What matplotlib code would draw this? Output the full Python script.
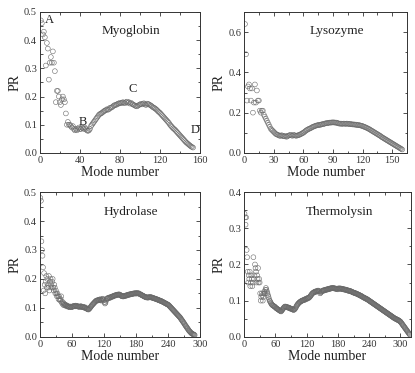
import numpy as np
import matplotlib
matplotlib.use("Agg")
import matplotlib.pyplot as plt
from matplotlib.ticker import MultipleLocator

plt.rcParams['font.family'] = ['Liberation Serif', 'DejaVu Serif']

#%% PR values per mode

myo_pr = [0.47, 0.46, 0.42, 0.43, 0.41, 0.31, 0.39, 0.37, 0.26, 0.32,
          0.34, 0.32, 0.36, 0.32, 0.29, 0.18, 0.22, 0.22, 0.20, 0.18,
          0.17, 0.19, 0.20, 0.19, 0.18, 0.14, 0.10, 0.11, 0.10, 0.10,
          0.095, 0.09, 0.095, 0.085, 0.08, 0.085, 0.08, 0.085, 0.09, 0.085,
          0.085, 0.09, 0.088, 0.085, 0.09, 0.085, 0.08, 0.078, 0.08, 0.085,
          0.095, 0.10, 0.105, 0.11, 0.115, 0.12, 0.125, 0.13, 0.135, 0.138,
          0.14, 0.142, 0.145, 0.148, 0.15, 0.152, 0.155, 0.153, 0.155, 0.16,
          0.16, 0.162, 0.165, 0.168, 0.17, 0.17, 0.172, 0.175, 0.175, 0.178,
          0.176, 0.178, 0.18, 0.178, 0.176, 0.18, 0.182, 0.178, 0.18, 0.175,
          0.178, 0.174, 0.172, 0.17, 0.168, 0.166, 0.165, 0.168, 0.17, 0.172,
          0.174, 0.172, 0.175, 0.176, 0.172, 0.17, 0.175, 0.174, 0.172, 0.17,
          0.168, 0.165, 0.162, 0.16, 0.158, 0.155, 0.152, 0.148, 0.145, 0.142,
          0.138, 0.134, 0.13, 0.126, 0.122, 0.118, 0.114, 0.11, 0.106, 0.10,
          0.096, 0.092, 0.088, 0.085, 0.082, 0.078, 0.074, 0.07, 0.066, 0.062,
          0.058, 0.054, 0.05, 0.046, 0.042, 0.038, 0.035, 0.032, 0.029, 0.026,
          0.023, 0.021, 0.019]

lys_pr = [0.64, 0.49, 0.26, 0.33, 0.34, 0.32, 0.26, 0.32, 0.20, 0.25,
          0.34, 0.25, 0.31, 0.26, 0.26, 0.21, 0.20, 0.21, 0.21, 0.19,
          0.18, 0.17, 0.16, 0.15, 0.14, 0.13, 0.12, 0.115, 0.11, 0.105,
          0.10, 0.095, 0.092, 0.09, 0.088, 0.085, 0.085, 0.088, 0.085, 0.083,
          0.082, 0.085, 0.08, 0.083, 0.086, 0.088, 0.09, 0.087, 0.085, 0.09,
          0.088, 0.086, 0.085, 0.087, 0.088, 0.09, 0.092, 0.095, 0.098, 0.10,
          0.104, 0.108, 0.112, 0.115, 0.118, 0.12, 0.122, 0.125, 0.128, 0.13,
          0.132, 0.134, 0.136, 0.137, 0.138, 0.14, 0.139, 0.141, 0.143, 0.142,
          0.145, 0.146, 0.148, 0.147, 0.149, 0.15, 0.151, 0.15, 0.152, 0.151,
          0.152, 0.15, 0.151, 0.149, 0.148, 0.146, 0.145, 0.146, 0.144, 0.145,
          0.146, 0.145, 0.144, 0.146, 0.145, 0.144, 0.143, 0.144, 0.142, 0.141,
          0.142, 0.14, 0.141, 0.139, 0.138, 0.139, 0.137, 0.136, 0.135, 0.133,
          0.131, 0.129, 0.127, 0.125, 0.122, 0.12, 0.117, 0.114, 0.111, 0.108,
          0.105, 0.102, 0.099, 0.096, 0.093, 0.09, 0.087, 0.084, 0.08, 0.077,
          0.074, 0.071, 0.068, 0.065, 0.062, 0.059, 0.056, 0.053, 0.05, 0.047,
          0.044, 0.041, 0.038, 0.035, 0.032, 0.029, 0.026, 0.023, 0.02, 0.017]

hyd_pr = [0.48, 0.47, 0.33, 0.30, 0.28, 0.24, 0.16, 0.22, 0.18, 0.15,
          0.19, 0.21, 0.17, 0.20, 0.18, 0.17, 0.21, 0.16, 0.19, 0.20,
          0.18, 0.17, 0.19, 0.20, 0.17, 0.16, 0.18, 0.17, 0.15, 0.16,
          0.15, 0.14, 0.15, 0.14, 0.13, 0.14, 0.13, 0.125, 0.13, 0.14,
          0.12, 0.115, 0.12, 0.11, 0.115, 0.11, 0.112, 0.108, 0.11, 0.105,
          0.108, 0.106, 0.104, 0.105, 0.103, 0.102, 0.105, 0.104, 0.102, 0.103,
          0.104, 0.106, 0.105, 0.107, 0.106, 0.105, 0.108, 0.106, 0.107, 0.105,
          0.106, 0.104, 0.105, 0.103, 0.104, 0.105, 0.106, 0.104, 0.103, 0.102,
          0.104, 0.103, 0.101, 0.10, 0.102, 0.10, 0.098, 0.097, 0.096, 0.095,
          0.094, 0.096, 0.098, 0.10, 0.103, 0.105, 0.108, 0.11, 0.112, 0.114,
          0.116, 0.118, 0.12, 0.122, 0.124, 0.125, 0.126, 0.125, 0.127, 0.128,
          0.126, 0.128, 0.13, 0.127, 0.125, 0.128, 0.13, 0.132, 0.129, 0.126,
          0.12, 0.115, 0.118, 0.125, 0.13, 0.132, 0.134, 0.133, 0.135, 0.136,
          0.134, 0.136, 0.138, 0.137, 0.139, 0.14, 0.139, 0.141, 0.142, 0.143,
          0.142, 0.144, 0.145, 0.144, 0.146, 0.145, 0.146, 0.147, 0.145, 0.146,
          0.144, 0.142, 0.141, 0.14, 0.141, 0.139, 0.14, 0.141, 0.142, 0.141,
          0.143, 0.142, 0.144, 0.145, 0.144, 0.146, 0.145, 0.147, 0.146, 0.148,
          0.147, 0.148, 0.149, 0.148, 0.15, 0.149, 0.15, 0.151, 0.15, 0.149,
          0.151, 0.15, 0.152, 0.15, 0.149, 0.15, 0.148, 0.147, 0.146, 0.145,
          0.144, 0.143, 0.142, 0.141, 0.14, 0.139, 0.138, 0.137, 0.136, 0.137,
          0.136, 0.135, 0.136, 0.137, 0.136, 0.138, 0.137, 0.136, 0.137, 0.135,
          0.135, 0.134, 0.134, 0.133, 0.132, 0.132, 0.131, 0.13, 0.13, 0.129,
          0.128, 0.127, 0.127, 0.126, 0.125, 0.124, 0.124, 0.123, 0.122, 0.121,
          0.12, 0.119, 0.118, 0.117, 0.116, 0.115, 0.114, 0.113, 0.112, 0.111,
          0.11, 0.108, 0.106, 0.104, 0.102, 0.10, 0.098, 0.096, 0.094, 0.092,
          0.09, 0.088, 0.086, 0.084, 0.082, 0.08, 0.078, 0.076, 0.074, 0.072,
          0.07, 0.068, 0.066, 0.063, 0.06, 0.058, 0.055, 0.052, 0.05, 0.047,
          0.044, 0.041, 0.038, 0.036, 0.033, 0.03, 0.028, 0.025, 0.022, 0.02,
          0.018, 0.016, 0.014, 0.012, 0.011, 0.01, 0.009, 0.008, 0.007, 0.006]

thr_pr = [0.34, 0.33, 0.31, 0.33, 0.24, 0.22, 0.18, 0.15, 0.17, 0.16,
          0.18, 0.14, 0.15, 0.17, 0.16, 0.14, 0.15, 0.22, 0.16, 0.17,
          0.20, 0.19, 0.18, 0.15, 0.17, 0.16, 0.19, 0.15, 0.16, 0.15,
          0.12, 0.10, 0.11, 0.12, 0.115, 0.10, 0.11, 0.12, 0.125, 0.12,
          0.13, 0.135, 0.13, 0.125, 0.12, 0.115, 0.11, 0.105, 0.10, 0.098,
          0.095, 0.092, 0.09, 0.088, 0.087, 0.086, 0.085, 0.084, 0.083, 0.082,
          0.08, 0.079, 0.078, 0.077, 0.076, 0.075, 0.074, 0.073, 0.072, 0.071,
          0.07, 0.072, 0.074, 0.076, 0.078, 0.08, 0.082, 0.083, 0.084, 0.083,
          0.082, 0.083, 0.082, 0.081, 0.08, 0.081, 0.08, 0.079, 0.078, 0.077,
          0.078, 0.077, 0.076, 0.075, 0.074, 0.075, 0.076, 0.078, 0.08, 0.083,
          0.086, 0.088, 0.09, 0.092, 0.093, 0.095, 0.096, 0.097, 0.098, 0.099,
          0.10, 0.10, 0.101, 0.102, 0.101, 0.103, 0.104, 0.103, 0.105, 0.106,
          0.105, 0.107, 0.108, 0.107, 0.109, 0.11, 0.112, 0.114, 0.116, 0.118,
          0.12, 0.121, 0.122, 0.123, 0.124, 0.125, 0.124, 0.126, 0.125, 0.127,
          0.126, 0.128, 0.127, 0.126, 0.125, 0.12, 0.122, 0.124, 0.126, 0.127,
          0.128, 0.127, 0.129, 0.128, 0.13, 0.129, 0.13, 0.131, 0.13, 0.132,
          0.131, 0.132, 0.133, 0.132, 0.134, 0.133, 0.134, 0.135, 0.134, 0.135,
          0.134, 0.135, 0.134, 0.133, 0.134, 0.133, 0.132, 0.133, 0.132, 0.131,
          0.134, 0.133, 0.134, 0.133, 0.134, 0.133, 0.132, 0.133, 0.132, 0.131,
          0.132, 0.131, 0.13, 0.131, 0.13, 0.129, 0.13, 0.129, 0.128, 0.127,
          0.128, 0.127, 0.127, 0.126, 0.126, 0.125, 0.124, 0.124, 0.123, 0.122,
          0.122, 0.121, 0.121, 0.12, 0.12, 0.119, 0.118, 0.118, 0.117, 0.116,
          0.116, 0.115, 0.114, 0.113, 0.113, 0.112, 0.111, 0.11, 0.109, 0.108,
          0.108, 0.107, 0.106, 0.105, 0.105, 0.104, 0.103, 0.102, 0.101, 0.10,
          0.099, 0.098, 0.097, 0.096, 0.095, 0.094, 0.093, 0.092, 0.091, 0.09,
          0.089, 0.088, 0.087, 0.086, 0.085, 0.084, 0.083, 0.082, 0.081, 0.08,
          0.079, 0.078, 0.077, 0.076, 0.075, 0.074, 0.073, 0.072, 0.071, 0.07,
          0.069, 0.068, 0.067, 0.066, 0.065, 0.064, 0.063, 0.062, 0.061, 0.06,
          0.059, 0.058, 0.057, 0.056, 0.055, 0.054, 0.053, 0.052, 0.051, 0.05,
          0.05, 0.049, 0.048, 0.047, 0.047, 0.046, 0.045, 0.044, 0.043, 0.042,
          0.04, 0.038, 0.036, 0.034, 0.032, 0.03, 0.028, 0.026, 0.024, 0.022,
          0.02, 0.018, 0.016, 0.014, 0.012, 0.01, 0.008, 0.006]

names = ['Myoglobin', 'Lysozyme', 'Hydrolase', 'Thermolysin']
all_pr = [myo_pr, lys_pr, hyd_pr, thr_pr]

# x limit, x major step, y limit, y major step
x_lims = [160, 165, 300, 320]
x_steps = [40, 30, 60, 60]
y_lims = [0.5, 0.7, 0.5, 0.4]
y_steps = [0.1, 0.2, 0.1, 0.1]

# A-D labels on the myoglobin panel
myo_marks = ['A', 'B', 'C', 'D']
myo_mark_x = [10, 43, 93, 155]
myo_mark_y = [0.45, 0.09, 0.205, 0.06]

#%% figure

fig = plt.figure(figsize=(4.15, 3.73), dpi=100)
boxes = [[0.096, 0.590, 0.386, 0.378],
         [0.588, 0.590, 0.393, 0.378],
         [0.096, 0.097, 0.386, 0.388],
         [0.588, 0.097, 0.402, 0.388]]

for i in range(4):
    ax = fig.add_axes(boxes[i])
    pr = all_pr[i]
    modes = np.arange(1, len(pr) + 1)
    ax.scatter(modes, pr, s=12, facecolors='none', edgecolors='#6a6a6a',
               linewidths=0.4, zorder=2)
    ax.set_xlim(0, x_lims[i])
    ax.set_ylim(0, y_lims[i])
    ax.xaxis.set_major_locator(MultipleLocator(x_steps[i]))
    ax.xaxis.set_minor_locator(MultipleLocator(x_steps[i] / 2))
    ax.yaxis.set_major_locator(MultipleLocator(y_steps[i]))
    ax.yaxis.set_minor_locator(MultipleLocator(y_steps[i] / 2))
    ax.tick_params(which='both', direction='in', top=True, right=True,
                   labelsize=7.5, width=0.6, pad=2, colors='#333333')
    ax.tick_params(which='major', length=3)
    ax.tick_params(which='minor', length=1.8)
    if y_steps[i] == 0.1:
        ax.yaxis.set_major_formatter(plt.FormatStrFormatter('%.1f'))
    for sp in ax.spines.values():
        sp.set_linewidth(0.7)
        sp.set_color('#333333')
    ax.set_xlabel('Mode number', fontsize=10, labelpad=1, color='#222222')
    ax.set_ylabel('PR', fontsize=10, labelpad=2, color='#222222')
    ax.text(0.57, 0.84, names[i], transform=ax.transAxes, ha='center',
            fontsize=9.5, color='#222222')
    if i == 0:
        for lab, mx, my in zip(myo_marks, myo_mark_x, myo_mark_y):
            ax.text(mx, my, lab, fontsize=9, ha='center', va='bottom',
                    color='#222222')

fig.savefig('out.png', dpi=100)
